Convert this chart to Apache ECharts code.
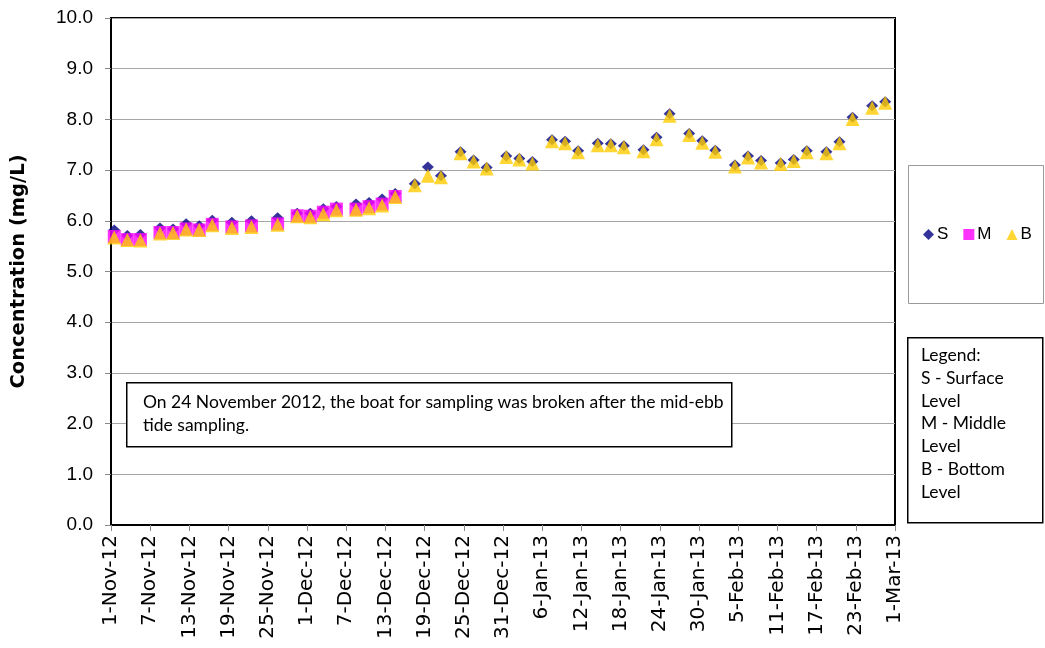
<!DOCTYPE html>
<html>
<head>
<meta charset="utf-8">
<script src="https://cdn.jsdelivr.net/npm/echarts@6/dist/echarts.min.js"></script>
<style>
  html, body { margin: 0; padding: 0; background: #fff; }
  #chart { width: 1045px; height: 648px; }
</style>
</head>
<body>
<div id="chart"></div>
<script>
// sampling dates
const dates = [
  '2012-11-01', '2012-11-03', '2012-11-05', '2012-11-08', '2012-11-10', '2012-11-12', '2012-11-14', '2012-11-16',
  '2012-11-19', '2012-11-22', '2012-11-26', '2012-11-29', '2012-12-01', '2012-12-03', '2012-12-05', '2012-12-08',
  '2012-12-10', '2012-12-12', '2012-12-14', '2012-12-17', '2012-12-19', '2012-12-21', '2012-12-24', '2012-12-26',
  '2012-12-28', '2012-12-31', '2013-01-02', '2013-01-04', '2013-01-07', '2013-01-09', '2013-01-11', '2013-01-14',
  '2013-01-16', '2013-01-18', '2013-01-21', '2013-01-23', '2013-01-25', '2013-01-28', '2013-01-30', '2013-02-01',
  '2013-02-04', '2013-02-06', '2013-02-08', '2013-02-11', '2013-02-13', '2013-02-15', '2013-02-18', '2013-02-20',
  '2013-02-22', '2013-02-25', '2013-02-27'
];

// S - surface
const surface = [
  5.82, 5.71, 5.73, 5.86, 5.84, 5.94, 5.90, 6.01, 5.97, 6.00, 6.06, 6.15, 6.15, 6.24, 6.28, 6.33,
  6.36, 6.43, 6.54, 6.73, 7.06, 6.89, 7.36, 7.20, 7.05, 7.28, 7.23, 7.17, 7.60, 7.57, 7.38, 7.53,
  7.52, 7.48, 7.40, 7.65, 8.11, 7.72, 7.58, 7.39, 7.10, 7.28, 7.19, 7.14, 7.21, 7.38, 7.36, 7.56,
  8.04, 8.27, 8.35
];

// M - middle (only sampled up to 14-Dec)
const middle = [
  5.69, 5.63, 5.63, 5.77, 5.77, 5.84, 5.82, 5.93, 5.88, 5.90, 5.94, 6.10, 6.09, 6.17, 6.23, 6.23,
  6.28, 6.33, 6.48
];

// B - bottom
const bottom = [
  5.67, 5.62, 5.61, 5.75, 5.76, 5.83, 5.82, 5.91, 5.86, 5.88, 5.92, 6.09, 6.07, 6.13, 6.21, 6.22,
  6.25, 6.30, 6.47, 6.70, 6.89, 6.86, 7.33, 7.17, 7.03, 7.26, 7.21, 7.13, 7.57, 7.53, 7.35, 7.49,
  7.49, 7.45, 7.37, 7.61, 8.07, 7.69, 7.54, 7.36, 7.07, 7.25, 7.15, 7.12, 7.18, 7.35, 7.33, 7.53,
  8.01, 8.23, 8.33
];

const yTicks = ['0.0', '1.0', '2.0', '3.0', '4.0', '5.0', '6.0', '7.0', '8.0', '9.0', '10.0'];
const months = ['Jan', 'Feb', 'Mar', 'Apr', 'May', 'Jun', 'Jul', 'Aug', 'Sep', 'Oct', 'Nov', 'Dec'];

const DAY = 86400000;
const start = Date.UTC(2012, 10, 1);

function dayOf(s) {
  return (Date.parse(s + 'T00:00:00Z') - start) / DAY;
}

function dateLabel(d) {
  const t = new Date(start + d * DAY);
  return t.getUTCDate() + '-' + months[t.getUTCMonth()] + '-' + String(t.getUTCFullYear()).slice(2);
}

// excel puts the points between tick marks
function pairs(vals) {
  return vals.map((v, i) => [dayOf(dates[i]) + 0.5, v]);
}

const myChart = echarts.init(document.getElementById('chart'));

const notes = ['Legend:', 'S - Surface', 'Level', 'M - Middle', 'Level', 'B - Bottom', 'Level'];

const option = {
  animation: false,
  backgroundColor: '#fff',
  grid: {
    left: 111,
    right: 150,
    top: 18,
    bottom: 123,
    show: true,
    borderColor: '#000',
    borderWidth: 2,
  },
  legend: {
    left: 918,
    top: 221,
    itemWidth: 11,
    itemHeight: 11,
    itemGap: 15,
    textStyle: { fontFamily: 'Liberation Sans', fontSize: 17, color: '#000', padding: [0, 0, 0, -2] },
    data: [
      { name: 'S', icon: 'diamond' },
      { name: 'M', icon: 'rect' },
      { name: 'B', icon: 'triangle' },
    ],
  },
  xAxis: {
    type: 'value',
    min: 0,
    max: 120,
    interval: 6,
    splitLine: { show: false },
    axisLine: { lineStyle: { color: '#000', width: 2 } },
    axisTick: { show: true, length: 6, lineStyle: { color: '#888' } },
    axisLabel: {
      rotate: 90,
      fontFamily: 'DejaVu Sans',
      fontSize: 20,
      color: '#000',
      margin: 10,
      formatter: (v) => dateLabel(v),
    },
  },
  yAxis: {
    type: 'value',
    min: 0,
    max: 10,
    interval: 1,
    name: 'Concentration (mg/L)',
    nameLocation: 'middle',
    nameGap: 82,
    nameTextStyle: { fontFamily: 'DejaVu Sans', fontWeight: 'bold', fontSize: 19.5, color: '#000' },
    axisLine: { show: true, lineStyle: { color: '#000', width: 2 } },
    axisTick: { show: true, length: 6, lineStyle: { color: '#888' } },
    splitLine: { lineStyle: { color: '#a6a6a6', width: 1 } },
    axisLabel: {
      fontFamily: 'Liberation Sans',
      fontSize: 19,
      color: '#000',
      margin: 18,
      formatter: (v) => yTicks[Math.round(v)],
    },
  },
  graphic: [
    {
      type: 'rect',
      left: 908, top: 165,
      shape: { width: 135, height: 138 },
      style: { fill: '#fff', stroke: '#9a9a9a', lineWidth: 1 },
      z: -1,
    },
    {
      type: 'rect',
      left: 907, top: 337,
      shape: { width: 135, height: 185 },
      style: { fill: '#fff', stroke: '#000', lineWidth: 1.5 },
    },
    {
      type: 'text',
      left: 921, top: 344,
      style: {
        text: notes.join('\n'),
        font: '17.5px Lato',
        lineHeight: 22.8,
        fill: '#000',
      },
    },
    {
      type: 'rect',
      left: 126, top: 382,
      shape: { width: 605, height: 64 },
      style: { fill: '#fff', stroke: '#000', lineWidth: 1.5 },
      z: 10,
    },
    {
      type: 'text',
      left: 143, top: 391,
      z: 11,
      style: {
        text: 'On 24 November 2012, the boat for sampling was broken after the mid-ebb\ntide sampling.',
        font: '17.5px Lato',
        lineHeight: 23,
        fill: '#000',
      },
    },
  ],
  series: [
    {
      name: 'S',
      type: 'scatter',
      symbol: 'diamond',
      symbolSize: [12, 11],
      itemStyle: { color: '#000080' },
      data: pairs(surface),
    },
    {
      name: 'M',
      type: 'scatter',
      symbol: 'rect',
      symbolSize: 13,
      itemStyle: { color: '#ff00ff' },
      data: pairs(middle),
    },
    {
      name: 'B',
      type: 'scatter',
      symbol: 'triangle',
      symbolSize: 14,
      itemStyle: { color: '#ffcc00' },
      data: pairs(bottom),
    },
  ],
};

myChart.setOption(option);
</script>
</body>
</html>
